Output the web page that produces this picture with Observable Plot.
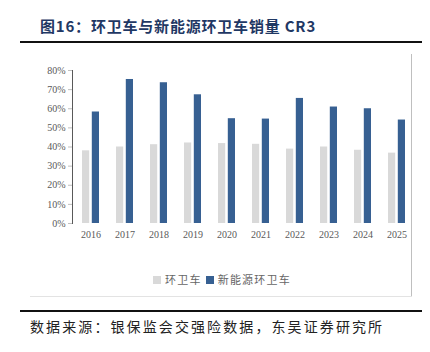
<!DOCTYPE html>
<html>
<head>
<meta charset="utf-8">
<script src="https://cdn.jsdelivr.net/npm/d3@7"></script>
<script src="https://cdn.jsdelivr.net/npm/@observablehq/plot@0.6"></script>
<style>
  html, body { margin: 0; padding: 0; background: #fff; }
  #wrap { position: relative; width: 430px; height: 352px; overflow: hidden; background: #fff; }
  #title { position: absolute; left: 40px; top: 15px; font-family: "Noto Sans CJK SC", sans-serif; font-weight: 700; font-size: 15px; letter-spacing: 0.8px; color: #1f3864; white-space: nowrap; }
  #tline { position: absolute; left: 20px; top: 41px; width: 402px; height: 2px; background: #111; }
  #rframe { position: absolute; left: 411px; top: 54px; width: 1px; height: 243px; background: #bfbfbf; }
  #bframe { position: absolute; left: 30px; top: 296px; width: 382px; height: 1px; background: #e3e3e3; }
  #fline { position: absolute; left: 20px; top: 310px; width: 402px; height: 2px; background: #111; }
  #foot { position: absolute; left: 30px; top: 316px; font-family: "Noto Sans CJK SC", sans-serif; font-size: 14px; letter-spacing: 2.1px; color: #222; white-space: nowrap; }
  #chart { position: absolute; left: 0; top: 50px; }
  #legend { position: absolute; left: 0; width: 430px; top: 271px; text-align: center; font-family: "Noto Sans CJK SC", sans-serif; font-size: 11px; letter-spacing: 1.2px; color: #666; padding-left: 14px; box-sizing: border-box; }
  #legend .sw { display: inline-block; width: 8px; height: 8px; vertical-align: -0px; margin-right: 4px; }
  #legend .item { margin: 0 2px; }
  #chart svg [aria-label="y-axis tick"] path, #chart svg [aria-label="y-axis tick"] line { stroke: #bfbfbf; }
</style>
</head>
<body>
<div id="wrap">
  <div id="title">图16：环卫车与新能源环卫车销量 CR3</div>
  <div id="tline"></div>
  <div id="chart"></div>
  <div id="legend"></div>
  <div id="rframe"></div>
  <div id="bframe"></div>
  <div id="fline"></div>
  <div id="foot">数据来源：银保监会交强险数据，东吴证券研究所</div>
</div>
<script>
const years = ["2016","2017","2018","2019","2020","2021","2022","2023","2024","2025"];
const seriesNames = ["环卫车", "新能源环卫车"];
const cr3All = [0.38, 0.40, 0.412, 0.421, 0.418, 0.414, 0.389, 0.400, 0.383, 0.368];
const cr3NEV = [0.583, 0.753, 0.736, 0.673, 0.548, 0.546, 0.654, 0.609, 0.600, 0.541];
const yTicks = [0, 0.1, 0.2, 0.3, 0.4, 0.5, 0.6, 0.7, 0.8];
const colors = ["#d9d9d9", "#376092"];

const dataAll = years.map((y, i) => ({year: y, value: cr3All[i]}));
const dataNEV = years.map((y, i) => ({year: y, value: cr3NEV[i]}));

const chart = Plot.plot({
  width: 430,
  height: 200,
  marginTop: 20,
  marginBottom: 27,
  marginLeft: 72,
  marginRight: 19,
  style: {fontFamily: "'Liberation Serif', 'DejaVu Serif', serif", fontSize: "10px", color: "#595959", background: "transparent"},
  x: {domain: years, range: [70.5, 416], paddingInner: 0.49, paddingOuter: 0.245, align: 0.5, label: null, tickSize: 0, tickPadding: 7},
  y: {domain: [0, 0.8], ticks: yTicks, tickFormat: d => Math.round(d * 100) + "%", label: null, tickSize: 4, tickPadding: 3, line: true},
  marks: [
    Plot.ruleY([0], {x1: 72, x2: 411, stroke: "#d9d9d9"}),
    Plot.barY(dataAll, {x: "year", y: "value", fill: colors[0], insetRight: 9.8}),
    Plot.barY(dataNEV, {x: "year", y: "value", fill: colors[1], insetLeft: 9.8})
  ]
});
document.getElementById("chart").appendChild(chart);

const legend = document.getElementById("legend");
seriesNames.forEach((name, i) => {
  const span = document.createElement("span");
  span.className = "item";
  span.innerHTML = `<span class="sw" style="background:${colors[i]}"></span>${name}`;
  legend.appendChild(span);
});
</script>
</body>
</html>
